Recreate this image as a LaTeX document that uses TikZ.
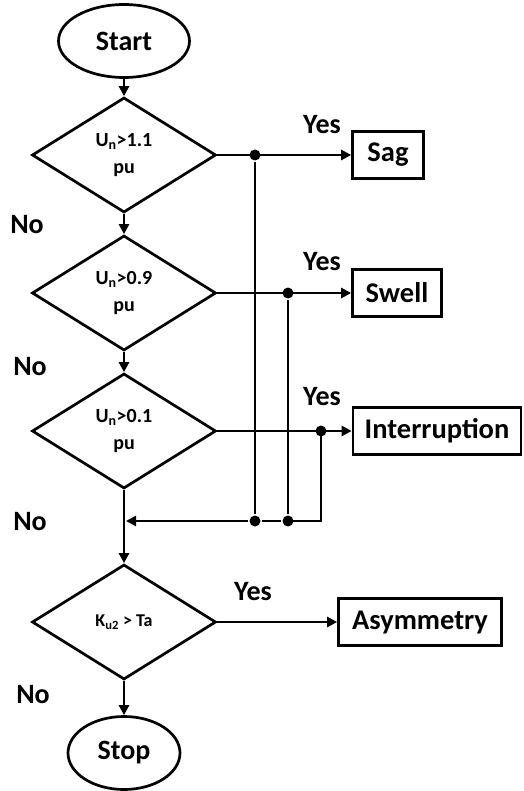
\documentclass[tikz,border=0pt]{standalone}
\usepackage{fontspec}
\setmainfont{Carlito}
\usetikzlibrary{calc, positioning, arrows.meta, shapes.geometric}

\begin{document}
\begin{tikzpicture}[x=1pt, y=-1pt, line width=2.7pt,
  term/.style={ellipse, draw, minimum width=131pt, minimum height=73pt, inner sep=0, font=\fontsize{28}{32}\selectfont\bfseries},
  test/.style={diamond, draw, aspect=1.6, minimum width=184pt, minimum height=115pt, inner sep=0, align=center, font=\fontsize{20}{27}\selectfont\bfseries},
  event/.style={rectangle, draw, minimum height=47pt, inner sep=0, font=\fontsize{28.5}{32}\selectfont\bfseries},
  lbl/.style={font=\fontsize{28}{32}\selectfont\bfseries},
  flow/.style={-{Triangle[length=10pt, width=10pt]}},
  junction/.style={circle, fill, inner sep=0, minimum size=11pt}]

  \useasboundingbox (0,0) rectangle (523,791);

  % Main column
  \node[term] (start) at (124,41) {Start};
  \node[test] (test1) at (124,155) {U\textsubscript{n}>1.1\\pu};
  \node[test] (test2) at (124,293) {U\textsubscript{n}>0.9\\pu};
  \node[test] (test3) at (124,431) {U\textsubscript{n}>0.1\\pu};
  \node[test, font=\fontsize{18}{22}\selectfont\bfseries] (test4) at (124,622) {K\textsubscript{u2} > Ta};
  \node[term, minimum width=112pt] (stop) at (124,753) {Stop};

  % Events
  \node[event, minimum width=71pt] (sag) at (388,155) {Sag};
  \node[event, minimum width=89pt] (swell) at (397,293) {Swell};
  \node[event, minimum width=168pt] (interr) at (437,431) {Interruption};
  \node[event, minimum width=163pt] (asym) at (420,622) {Asymmetry};

  % Junctions
  \node[junction] (j1) at (255,155) {};
  \node[junction] (j2) at (288,293) {};
  \node[junction] (j3) at (321,431) {};
  \node[junction] (b1) at (255,521) {};
  \node[junction] (b2) at (288,521) {};
  \coordinate (b3) at (321,521);
  \coordinate (entry) at (126,521);

  % Flow down
  \draw[flow] (start) -- (test1);
  \draw[flow] (test1) -- (test2);
  \draw[flow] (test2) -- (test3);
  \draw[flow] (test3) -- (test4);
  \draw[flow] (test4) -- (stop);

  % Yes branches
  \draw[flow] (test1.east) -- (sag.west);
  \draw[flow] (test2.east) -- (swell.west);
  \draw[flow] (test3.east) -- (interr.west);
  \draw[flow] (test4.east) -- (asym.west);

  % Return bus
  \draw (j1) -- (b1);
  \draw (j2) -- (b2);
  \draw[line join=miter] (j3.center) -- (b3) -- (b2.center);
  \draw[flow] (b2) -- (b1) -- (entry);

  % Labels
  \node[lbl] (yes1) at (322,125) {Yes};
  \node[lbl] (yes2) at (322,262) {Yes};
  \node[lbl] (yes3) at (322,397) {Yes};
  \node[lbl] (yes4) at (253,592) {Yes};
  \node[lbl] (no1) at (27,225) {No};
  \node[lbl] (no2) at (30,367) {No};
  \node[lbl] (no3) at (30,522) {No};
  \node[lbl] (no4) at (33,695) {No};
\end{tikzpicture}
\end{document}
